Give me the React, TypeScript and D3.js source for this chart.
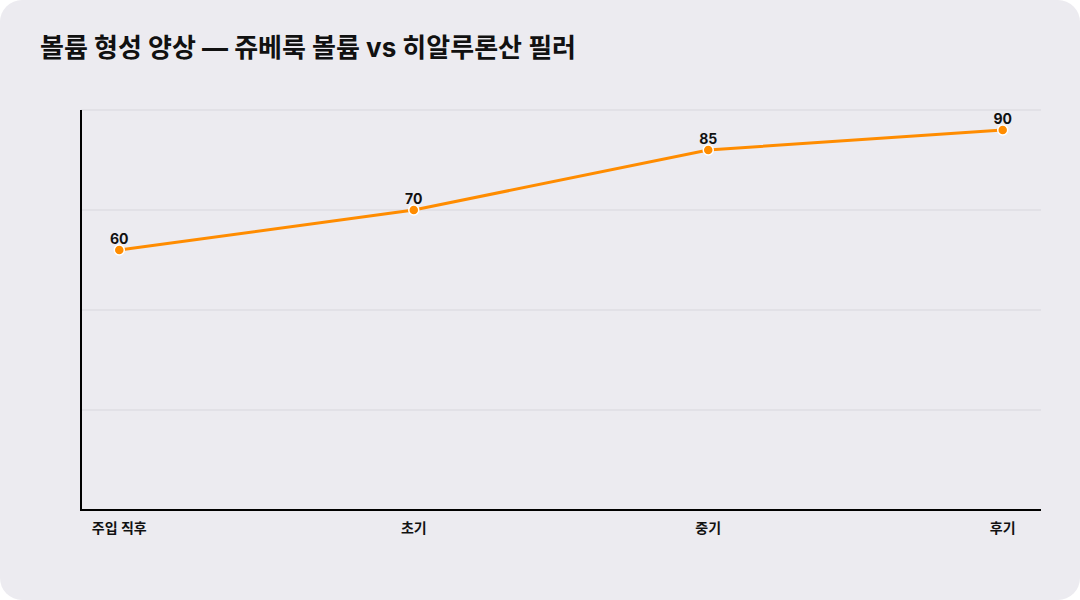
import React, { useEffect, useRef } from 'react';
import * as d3 from 'd3';

// data
const stages = ['주입 직후', '초기', '중기', '후기'];
const volume = [60, 70, 85, 90];
const yDomain: [number, number] = [-5, 95];
const title = '볼륨 형성 양상 — 쥬베룩 볼륨 vs 히알루론산 필러';

const W = 1080;
const H = 600;
const MARGIN = { top: 110, right: 39, bottom: 90, left: 81 };
const FONT = "Inter, 'Noto Sans CJK KR', 'Noto Sans', sans-serif";
const ORANGE = '#ff8c00';

export default function App() {
  const svgRef = useRef<SVGSVGElement>(null);

  useEffect(() => {
    document.body.style.margin = '0';
    if (!svgRef.current) return;
    const svg = d3.select(svgRef.current);
    svg.selectAll('*').remove();

    // card background
    svg.append('rect').attr('width', W).attr('height', H).attr('fill', '#ffffff');
    svg.append('rect').attr('width', W).attr('height', H).attr('rx', 22).attr('fill', '#ecebf0');

    svg.append('text')
      .attr('x', 40).attr('y', 57)
      .attr('font-family', FONT).attr('font-size', '26px').attr('font-weight', 700)
      .attr('fill', '#111111')
      .text(title);

    const x0 = MARGIN.left;
    const x1 = W - MARGIN.right;
    const y0 = H - MARGIN.bottom;
    const y1 = MARGIN.top;

    const x = d3.scalePoint<string>().domain(stages).range([x0, x1]).padding(0.13);
    const y = d3.scaleLinear().domain(yDomain).range([y0, y1]);

    // grid lines
    const gridVals = d3.range(yDomain[0] + 25, yDomain[1] + 1, 25);
    svg.append('g')
      .selectAll('line')
      .data(gridVals)
      .join('line')
      .attr('x1', x0).attr('x2', x1)
      .attr('y1', d => y(d)).attr('y2', d => y(d))
      .attr('stroke', '#d8d7dd').attr('stroke-width', 1);

    // axes
    svg.append('line')
      .attr('x1', x0).attr('x2', x0).attr('y1', y1).attr('y2', y0 + 1)
      .attr('stroke', '#000').attr('stroke-width', 2);
    svg.append('line')
      .attr('x1', x0 - 1).attr('x2', x1).attr('y1', y0).attr('y2', y0)
      .attr('stroke', '#000').attr('stroke-width', 2);

    // x labels
    svg.append('g')
      .selectAll('text')
      .data(stages)
      .join('text')
      .attr('x', d => x(d)!)
      .attr('y', y0 + 23)
      .attr('text-anchor', 'middle')
      .attr('font-family', FONT).attr('font-size', '14px').attr('font-weight', 700)
      .attr('fill', '#111')
      .text(d => d);

    const pts = stages.map((s, i) => ({ s, v: volume[i] }));

    // line
    const line = d3.line<{ s: string; v: number }>()
      .x(d => x(d.s)!)
      .y(d => y(d.v));
    svg.append('path').datum(pts)
      .attr('d', line)
      .attr('fill', 'none')
      .attr('stroke', ORANGE).attr('stroke-width', 3);

    // points
    svg.append('g')
      .selectAll('circle')
      .data(pts)
      .join('circle')
      .attr('cx', d => x(d.s)!).attr('cy', d => y(d.v))
      .attr('r', 5)
      .attr('fill', ORANGE).attr('stroke', '#ffffff').attr('stroke-width', 1.5);

    // value labels
    svg.append('g')
      .selectAll('text')
      .data(pts)
      .join('text')
      .attr('x', d => x(d.s)!).attr('y', d => y(d.v) - 6.5)
      .attr('text-anchor', 'middle')
      .attr('font-family', FONT).attr('font-size', '14px').attr('font-weight', 700)
      .attr('fill', '#111')
      .text(d => d.v);
  }, []);

  return <svg ref={svgRef} width={W} height={H} style={{ display: 'block' }} />;
}
